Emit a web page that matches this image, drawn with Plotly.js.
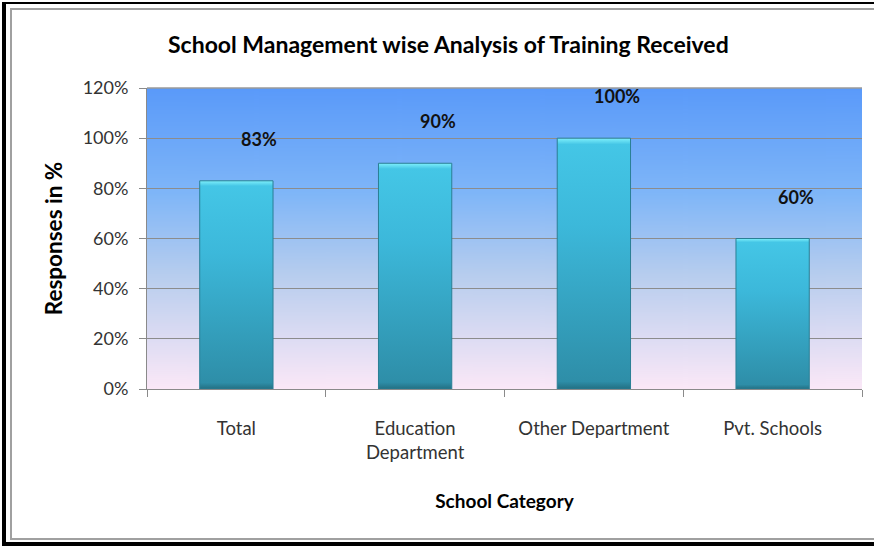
<!DOCTYPE html>
<html>
<head>
<meta charset="utf-8">
<script src="https://cdn.plot.ly/plotly-3.0.1.min.js"></script>
<style>
  html, body { margin: 0; padding: 0; background: #fff; overflow: hidden; }
  #chart { width: 874px; height: 546px; }
</style>
</head>
<body>
<div id="chart"></div>
<script>
// ---- data ----
const categories = ["Total", "Education<br>Department", "Other Department", "Pvt. Schools"];
const responses = [0.83, 0.90, 1.00, 0.60];
const labels = ["83%", "90%", "100%", "60%"];
const yTickVals = [0, 0.2, 0.4, 0.6, 0.8, 1.0, 1.2];
const yTickText = ["0%", "20%", "40%", "60%", "80%", "100%", "120%"];

// background gradient image for plot area
function gradientURL() {
  const c = document.createElement('canvas');
  c.width = 10; c.height = 300;
  const g = c.getContext('2d');
  const gr = g.createLinearGradient(0, 0, 0, 300);
  gr.addColorStop(0.0, '#5a9afa');
  gr.addColorStop(0.35, '#7fb6f8');
  gr.addColorStop(0.62, '#b7cdee');
  gr.addColorStop(1.0, '#fbe8f7');
  g.fillStyle = gr;
  g.fillRect(0, 0, 10, 300);
  return c.toDataURL('image/png');
}

const FONT = 'Lato, "Open Sans", sans-serif';
const W = 874, H = 546;
const M = { l: 147, r: 12, t: 88, b: 157 };
const PW = W - M.l - M.r, PH = H - M.t - M.b;
// pixel -> paper helpers for the frame decoration
const px = v => (v - M.l) / PW;
const py = v => (H - M.b - v) / PH;

function frameLine(x0, y0, x1, y1, color, width) {
  return { type: 'line', xref: 'paper', yref: 'paper', x0: px(x0), y0: py(y0), x1: px(x1), y1: py(y1),
           line: { color: color, width: width }, layer: 'above' };
}

const trace = {
  type: 'bar',
  x: categories,
  y: responses,
  marker: { color: '#38b0d2', line: { color: '#2a7f95', width: 1 } },
  hoverinfo: 'skip'
};

const annotations = categories.map((c, i) => ({
  x: c, y: responses[i], xref: 'x', yref: 'y',
  text: labels[i], showarrow: false,
  xshift: 23, yshift: 42,
  font: { family: FONT, size: 18, color: '#111', weight: 'bold' }
}));

const layout = {
  width: W, height: H,
  margin: M,
  paper_bgcolor: '#ffffff',
  plot_bgcolor: 'rgba(0,0,0,0)',
  showlegend: false,
  bargap: 0.59,
  font: { family: FONT, color: '#333' },
  title: {
    text: '<b>School Management wise Analysis of Training Received</b>',
    x: 0.513, xref: 'container', xanchor: 'center',
    y: 0.918, yref: 'container', yanchor: 'middle',
    font: { family: FONT, size: 23, color: '#000' }
  },
  xaxis: {
    type: 'category',
    showline: true, linecolor: '#8a8a8a', linewidth: 1,
    ticks: 'outside', tickson: 'boundaries', ticklen: 7, tickcolor: '#8a8a8a',
    ticklabelstandoff: 23,
    tickfont: { size: 18.5, color: '#333' },
    showgrid: false,
    title: { text: '<b>School Category</b>', standoff: 32, font: { size: 19, color: '#000' } }
  },
  yaxis: {
    range: [0, 1.2],
    tickvals: yTickVals, ticktext: yTickText,
    showline: true, linecolor: '#8a8a8a', linewidth: 1,
    ticks: 'outside', ticklen: 7, tickcolor: '#8a8a8a',
    ticklabelstandoff: 7,
    tickfont: { size: 18, color: '#333' },
    showgrid: true, gridcolor: '#8c8c8c', gridwidth: 1,
    zeroline: false,
    title: { text: '<b>Responses in %</b>', standoff: 13, font: { size: 22.5, color: '#000' } }
  },
  shapes: [
    { type: 'line', xref: 'paper', yref: 'paper', x0: 0, x1: 1, y0: 1, y1: 1, line: { color: '#9a9a9a', width: 1.5 } },
    // outer black frame (left, top, bottom)
    frameLine(4, 2, 4, 546, '#000', 4),
    frameLine(2, 3, 874, 3, '#000', 2),
    frameLine(2, 544, 874, 544, '#000', 4),
    // inner grey frame
    frameLine(11, 8, 11, 540, '#a0a0a0', 2),
    frameLine(10, 9, 874, 9, '#a0a0a0', 2),
    frameLine(10, 539, 874, 539, '#a0a0a0', 2)
  ],
  images: [{
    source: gradientURL(), xref: 'paper', yref: 'paper',
    x: 0, y: 1, sizex: 1, sizey: 1, sizing: 'stretch', layer: 'below',
    xanchor: 'left', yanchor: 'top'
  }],
  annotations: annotations
};

Plotly.newPlot('chart', [trace], layout, { staticPlot: true, displayModeBar: false }).then(function (gd) {
  const svg = gd.querySelector('.main-svg');
  let defs = svg.querySelector('defs');
  const ns = 'http://www.w3.org/2000/svg';
  if (!defs) { defs = document.createElementNS(ns, 'defs'); svg.insertBefore(defs, svg.firstChild); }
  const lg = document.createElementNS(ns, 'linearGradient');
  lg.setAttribute('id', 'barGrad');
  lg.setAttribute('x1', '0'); lg.setAttribute('y1', '0');
  lg.setAttribute('x2', '0'); lg.setAttribute('y2', '1');
  [['0', '#7ff0fb'], ['0.025', '#44c6e6'], ['0.35', '#3cb8da'], ['0.97', '#2e8ea8'], ['1', '#236f82']].forEach(function (s) {
    const st = document.createElementNS(ns, 'stop');
    st.setAttribute('offset', s[0]); st.setAttribute('stop-color', s[1]);
    lg.appendChild(st);
  });
  defs.appendChild(lg);
  gd.querySelectorAll('.trace.bars .point path').forEach(function (p) {
    p.style.fill = 'url(#barGrad)';
  });
});
</script>
</body>
</html>
